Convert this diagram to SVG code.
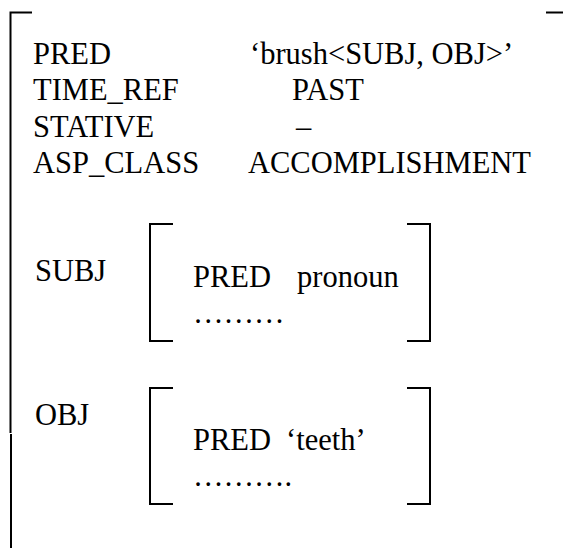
<svg xmlns="http://www.w3.org/2000/svg" width="563" height="548" viewBox="0 0 563 548">
<style>
text{font-family:"Liberation Serif","Times New Roman",serif;font-size:30.5px;fill:#000}
.br{fill:none;stroke:#000;stroke-width:2}
</style>
<rect width="563" height="548" fill="#fff"/>
<g id="outer-fstructure">
<path class="br" d="M32 12.5H10.5V433"/>
<path class="br" d="M11 434V548"/>
<path class="br" d="M546 12.5H563"/>
<text x="33" y="64">PRED</text>
<text x="250" y="64">‘brush&lt;SUBJ, OBJ&gt;’</text>
<text x="33" y="100">TIME_REF</text>
<text x="292" y="100">PAST</text>
<text x="33" y="137">STATIVE</text>
<text x="296" y="137">–</text>
<text x="33" y="173">ASP_CLASS</text>
<text x="248" y="173">ACCOMPLISHMENT</text>
<text x="35" y="281">SUBJ</text>
<text x="35" y="425">OBJ</text>
</g>
<g id="subj">
<path class="br" d="M173 224H150V341H173"/>
<path class="br" d="M407 224H430V341H407"/>
<text x="193" y="287">PRED</text>
<text x="297" y="287">pronoun</text>
<text x="193" y="323">………</text>
</g>
<g id="obj">
<path class="br" d="M173 388H150V504H173"/>
<path class="br" d="M407 388H430V504H407"/>
<text x="193" y="450">PRED</text>
<text x="286" y="450">‘teeth’</text>
<text x="193" y="486">……….</text>
</g>
<g id="connectors"></g>
</svg>
